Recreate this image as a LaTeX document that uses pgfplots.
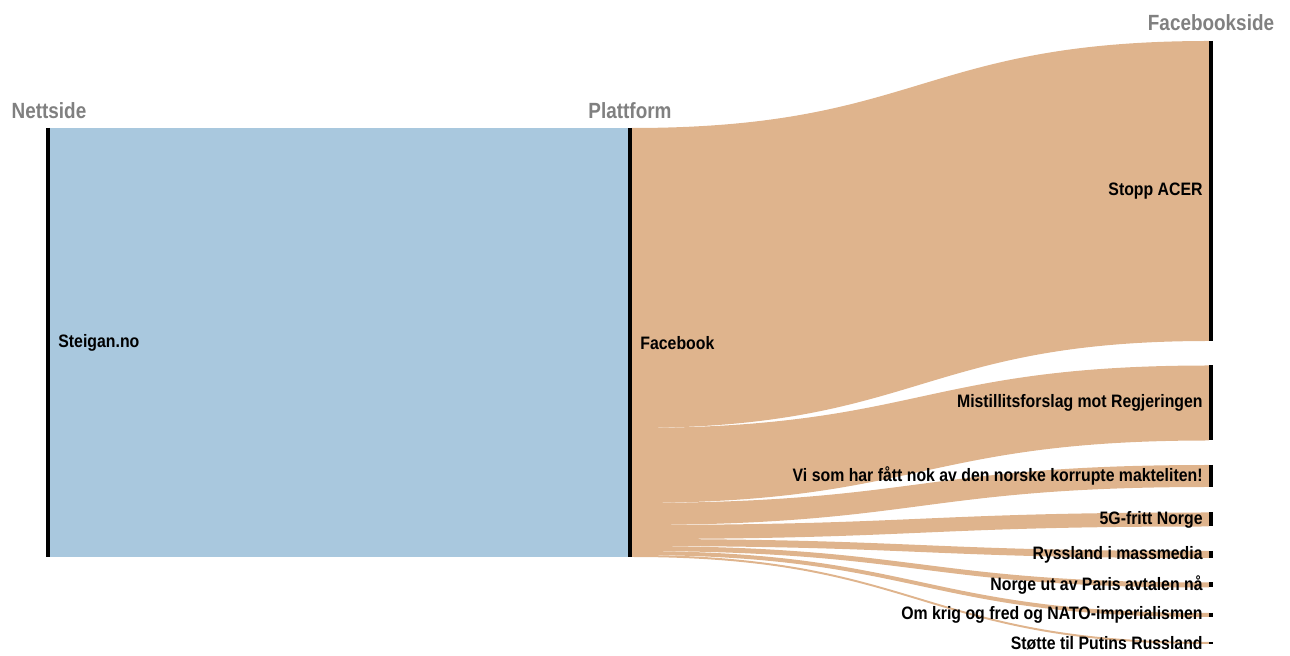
\documentclass[border=0pt]{standalone}
\usepackage{pgfplots}
\pgfplotsset{compat=1.18}
\usepackage{fontspec}
\setmainfont{Liberation Sans}[FakeStretch=0.86]
\newfontfamily\labfam{Liberation Sans}[FakeStretch=0.88]
\definecolor{flowblue}{RGB}{169,200,222}
\definecolor{flowtan}{RGB}{223,180,141}
\definecolor{hdr}{RGB}{128,128,128}
\newcommand\labfont{\labfam\fontsize{9}{10}\selectfont\bfseries}
\newcommand\hdrfont{\fontsize{11}{12}\selectfont\bfseries}
% #1 top of the flow at the middle node, #2 value (px), #3 centre of the target node
\newcommand\ribbon[3]{%
 \fill[flowtan] (axis cs:632,#1) .. controls (axis cs:920.5,#1) and (axis cs:920.5,{#3-#2/2}) .. (axis cs:1209,{#3-#2/2})
   -- (axis cs:1209,{#3+#2/2}) .. controls (axis cs:920.5,{#3+#2/2}) and (axis cs:920.5,{#1+#2}) .. (axis cs:632,{#1+#2}) -- cycle;}
% #1 value, #2 centre, #3 label
\newcommand\target[3]{%
 \draw[black, line width=2pt] (axis cs:1211,{#2-#1/2}) -- (axis cs:1211,{#2+#1/2});
 \node[anchor=east, inner sep=0pt, font=\labfont] at (axis cs:1203,#2) {#3};}
\begin{document}
\begin{tikzpicture}
\begin{axis}[
  width=645pt, height=328pt, scale only axis,
  xmin=0, xmax=1290, ymin=0, ymax=656, y dir=reverse,
  hide axis, clip=false]
\path (axis cs:0,0) (axis cs:1290,656);
% Steigan.no -> Facebook (total 429)
\addplot[draw=none, fill=flowblue] coordinates {(50,128) (628,128) (628,557) (50,557)} -- cycle;
% Facebook -> pages: top at middle, value, centre at right
\ribbon{128}{300}{191}
\ribbon{428}{75}{403}
\ribbon{503}{22}{476}
\ribbon{525}{14}{519.5}
\ribbon{539}{7}{554.5}
\ribbon{546}{5}{585}
\ribbon{551}{4}{615}
\ribbon{555}{2}{643}
% nodes
\draw[black, line width=2pt] (axis cs:48,128) -- (axis cs:48,557);
\draw[black, line width=2pt] (axis cs:630,128) -- (axis cs:630,557);
\node[anchor=west, inner sep=0pt, font=\labfont] at (axis cs:58,343) {Steigan.no};
\node[anchor=west, inner sep=0pt, font=\labfont] at (axis cs:640,343) {Facebook};
\target{300}{191}{Stopp ACER}
\target{75}{403}{Mistillitsforslag mot Regjeringen}
\target{22}{476}{Vi som har fått nok av den norske korrupte makteliten!}
\target{14}{519.5}{5G-fritt Norge}
\target{7}{554.5}{Ryssland i massmedia}
\target{5}{585}{Norge ut av Paris avtalen nå}
\target{4}{615}{Om krig og fred og NATO-imperialismen}
\target{2}{643}{Støtte til Putins Russland}
% headers
\node[anchor=base, inner sep=0pt, font=\hdrfont, text=hdr] at (axis cs:49,119) {Nettside};
\node[anchor=base, inner sep=0pt, font=\hdrfont, text=hdr] at (axis cs:630,119) {Plattform};
\node[anchor=base, inner sep=0pt, font=\hdrfont, text=hdr] at (axis cs:1211,31) {Facebookside};
\end{axis}
\end{tikzpicture}
\end{document}
